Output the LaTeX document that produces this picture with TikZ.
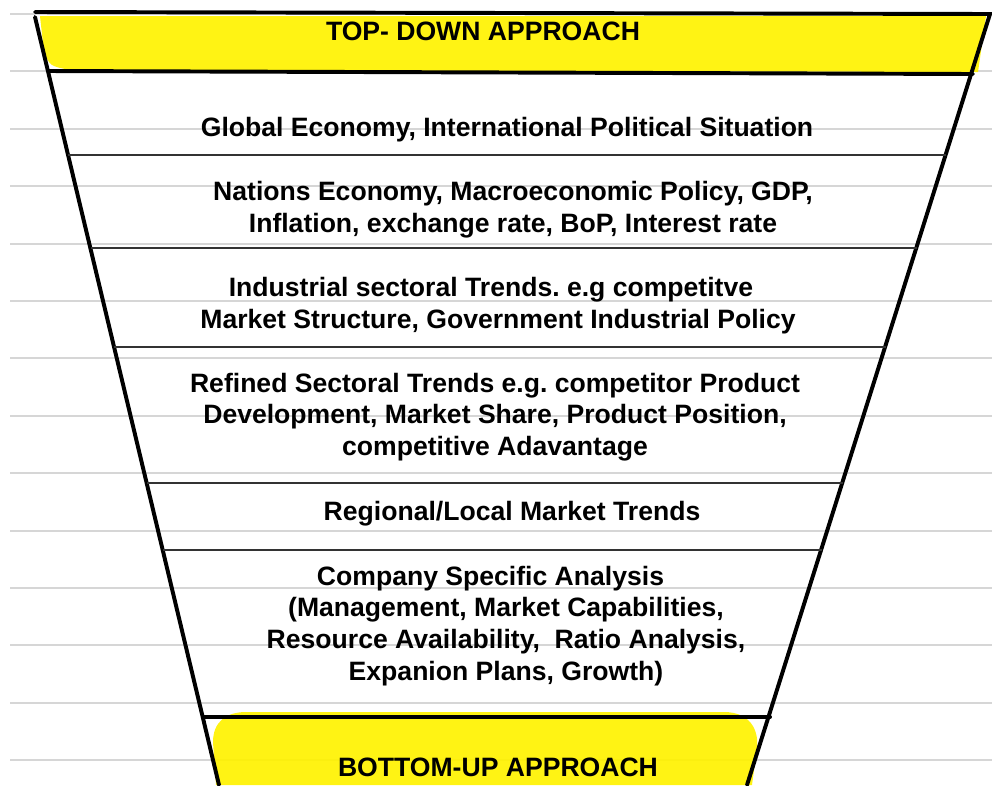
\documentclass[tikz,border=0pt]{standalone}
\usepackage{fontspec}
\setmainfont{Liberation Sans}
\usetikzlibrary{calc}

\begin{document}
\begin{tikzpicture}[x=0.025cm,y=-0.025cm,
		ruled/.style={draw=black!16,line width=1.4pt},
		marker/.style={fill=yellow,fill opacity=0.92},
		rim/.style={line width=2.8pt,line cap=round},
		divider/.style={draw=black!80,line width=1.3pt},
		label/.style={align=center,font=\bfseries\frenchspacing\fontsize{18.9}{22.6}\selectfont,inner sep=0pt}]
			%%%%% START %%%%%
			\useasboundingbox (0,0) rectangle (992,785);
			
			% notebook paper
			\foreach \k in {0,...,13}
				\draw[ruled] (10,{14+57.4*\k}) -- (992,{14+57.4*\k});
			
			% highlighter
			\fill[marker] (40,16) -- (986,16) -- (978,72) -- (70,70) .. controls (50,66) .. (44,52) -- cycle;
			\fill[marker] (216,785) -- (213,742) .. controls (213,722) and (226,712) .. (246,712) -- (724,712) .. controls (750,712) and (759,730) .. (757,748) -- (752,785) -- cycle;
			
			% funnel
			\coordinate (tl) at (35,12);
			\coordinate (tr) at (990,14);
			\coordinate (bl) at (219,785);
			\coordinate (br) at (747,785);
			\draw[rim] (tl) -- (tr) -- (br);
			\draw[rim] (35,17) -- (bl);
			\draw[rim] (48,71) -- (973,74);
			\draw[rim] (203,717) -- (770,717);
			
			\draw[divider] (68,155) -- (946,155);
			\draw[divider] (91,248) -- (917,248);
			\draw[divider] (114,347) -- (886,347);
			\draw[divider] (147,483) -- (843,483);
			\draw[divider] (163,550) -- (822,550);
			
			\node[label] (top) at (483,31) {TOP- DOWN APPROACH};
			\node[label] (global) at (507,130) {Global Economy, International Political Situation};
			\node[label] (nation) at (513,210) {Nations Economy, Macroeconomic Policy, GDP,\\Inflation, exchange rate, BoP, Interest rate};
			\node[label] (industry) at (498,306) {\hspace*{-10pt}Industrial sectoral Trends. e.g competitve\\Market Structure, Government Industrial Policy};
			\node[label] (refined) at (495,417) {Refined Sectoral Trends e.g. competitor Product\\Development, Market Share, Product Position,\\competitive Adavantage};
			\node[label] (region) at (512,514) {Regional/Local Market Trends};
			\node[label] (company) at (506,626) {Company Specific Analysis\hspace*{22pt}\\(Management, Market Capabilities,\\Resource Availability,\ \ Ratio Analysis,\\Expanion Plans, Growth)};
			\node[label] (bottom) at (498,767) {BOTTOM-UP APPROACH};
			%%%%% END %%%%%
		\end{tikzpicture}
\end{document}
